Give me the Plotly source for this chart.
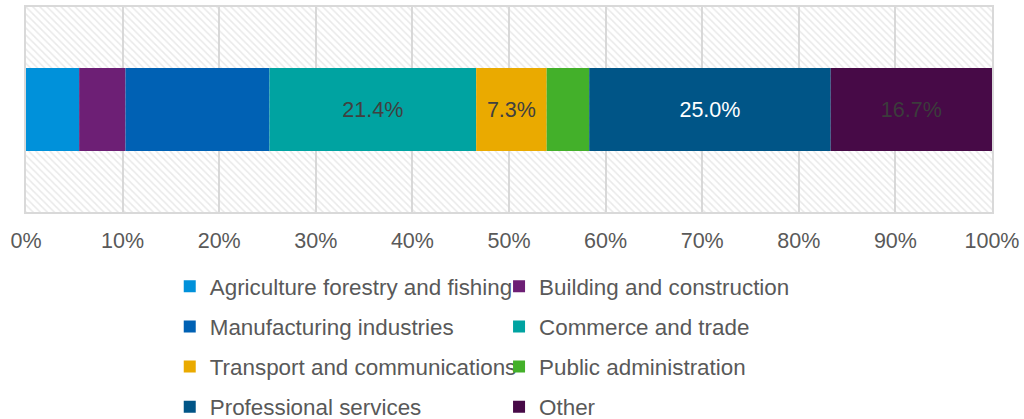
import numpy as np
import plotly.graph_objects as go

# Sector shares of the total (percent), in stacking order
sectors = [
    "Agriculture forestry and fishing",
    "Building and construction",
    "Manufacturing industries",
    "Commerce and trade",
    "Transport and communications",
    "Public administration",
    "Professional services",
    "Other",
]
shares = [5.5, 4.8, 14.9, 21.4, 7.3, 4.4, 25.0, 16.7]
show_label = [False, False, False, True, True, False, True, True]
colors = ["#0091DA", "#6D1F75", "#0061B4", "#00A3A1",
          "#EAAA00", "#43B02A", "#005587", "#470A47"]
label_colors = ["#404040", "#404040", "#404040", "#404040",
                "#404040", "#404040", "#FFFFFF", "#3C3C3C"]
# legend column for each sector (two columns)
legend_col = ["legend", "legend2", "legend", "legend2",
              "legend", "legend2", "legend", "legend2"]
x_ticks = list(range(0, 101, 10))
x_tick_labels = [f"{t}%" for t in x_ticks]

FONT = "Arial, Liberation Sans, sans-serif"
GRID = "#D9D9D9"
TEXT = "#595959"

bases = np.concatenate([[0.0], np.cumsum(shares)[:-1]])

fig = go.Figure()

# hatched backdrop across the whole plotting area
fig.add_trace(go.Bar(
    y=[0], x=[x_ticks[-1]], base=0, orientation="h", width=1.0,
    marker=dict(color="rgba(0,0,0,0)", line_width=0,
                pattern=dict(shape="\\", fgcolor="#D4D4D4",
                             bgcolor="rgba(0,0,0,0)", size=5, solidity=0.3)),
    showlegend=False, hoverinfo="skip",
))

for i, name in enumerate(sectors):
    fig.add_trace(go.Bar(
        y=[0], x=[shares[i]], base=[bases[i]], orientation="h", width=0.405,
        name=name, legend=legend_col[i], legendgroup=name,
        marker=dict(color=colors[i], line_width=0),
        text=[f"{shares[i]:.1f}%" if show_label[i] else ""],
        textposition="inside", insidetextanchor="middle",
        textfont=dict(family=FONT, size=21.5, color=label_colors[i]),
        constraintext="none",
        hovertemplate=f"{name}: %{{x:.1f}}%<extra></extra>",
    ))

legend_style = dict(
    font=dict(family=FONT, size=22.4, color=TEXT),
    orientation="v", xanchor="left", yanchor="top",
    y=-0.26, tracegroupgap=8, bgcolor="rgba(0,0,0,0)",
    itemclick=False, itemdoubleclick=False,
)

fig.update_layout(
    width=1024, height=419,
    margin=dict(l=26, r=32, t=7, b=207, autoexpand=False),
    barmode="overlay",
    paper_bgcolor="white", plot_bgcolor="white",
    font=dict(family=FONT, size=20, color=TEXT),
    xaxis=dict(
        range=[0, 100], tickvals=x_ticks, ticktext=x_tick_labels,
        showgrid=True, gridcolor=GRID, gridwidth=2,
        showline=True, linecolor=GRID, linewidth=2, mirror=True,
        ticks="outside", ticklen=8, tickcolor="rgba(0,0,0,0)",
        tickfont=dict(family=FONT, size=21.5, color=TEXT),
        zeroline=False, fixedrange=True,
    ),
    yaxis=dict(
        range=[-0.5, 0.5], showticklabels=False, showgrid=False,
        showline=True, linecolor=GRID, linewidth=2, mirror=True,
        zeroline=False, fixedrange=True,
    ),
    legend=dict(x=0.1488, **legend_style),
    legend2=dict(x=0.4897, **legend_style),
    showlegend=True,
)

fig.write_html("out.html")
